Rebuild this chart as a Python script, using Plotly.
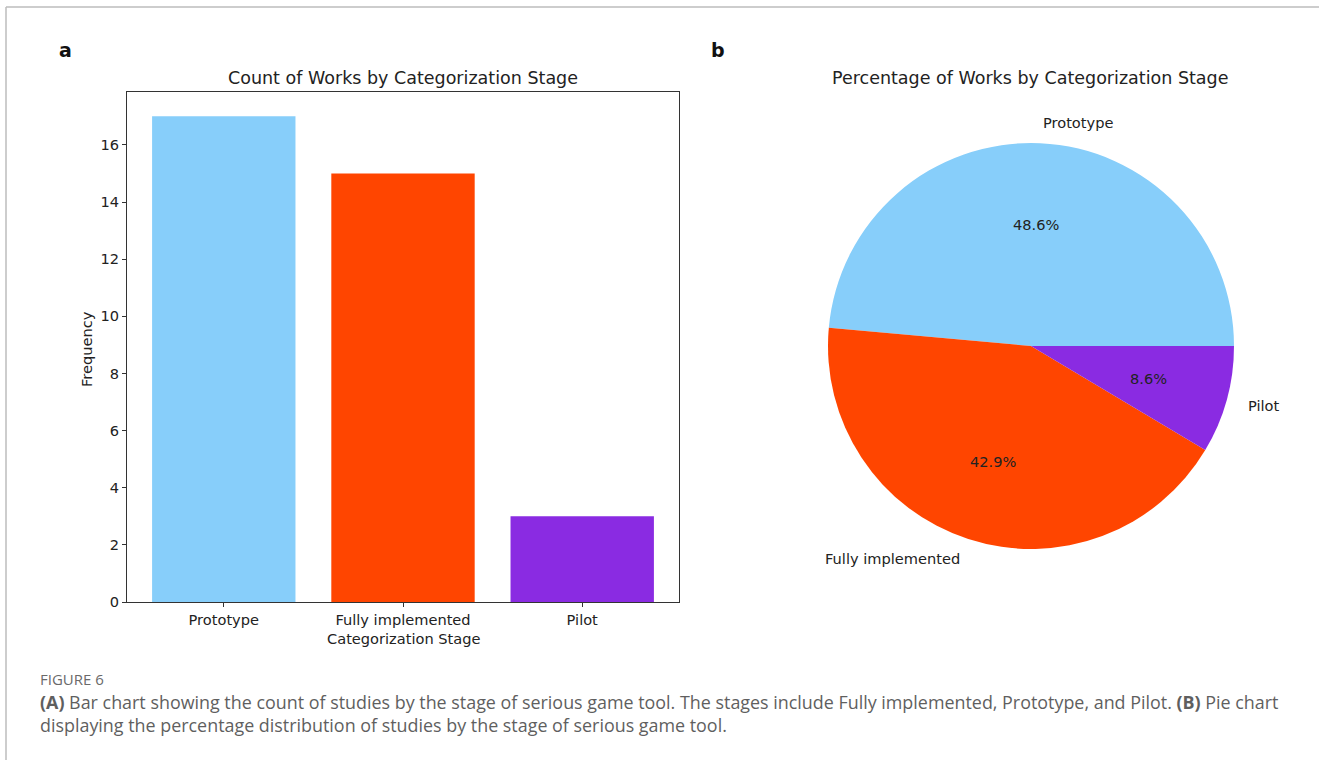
import numpy as np
import plotly.graph_objects as go

# Data
stages = ["Prototype", "Fully implemented", "Pilot"]
counts = [17, 15, 3]
colors = ["#87CEFA", "#FF4500", "#8A2BE2"]
y_ticks = [0, 2, 4, 6, 8, 10, 12, 14, 16]

W, H = 1319, 760
FONT = "DejaVu Sans"
TXT = "#222222"
LBL = 14.6


def px(x):
    return x / W


def py(y):
    return 1 - y / H


fig = go.Figure()

# Panel a: bar chart
fig.add_trace(go.Bar(
    x=list(range(len(stages))), y=counts, marker=dict(color=colors, line=dict(width=0)),
    width=0.8, showlegend=False, hoverinfo="skip",
))

# Slice geometry (math angles, counterclockwise from 3 o'clock)
vals = np.array(counts, dtype=float)
frac = vals / vals.sum()
ends = np.cumsum(frac) * 2 * np.pi
starts = ends - frac * 2 * np.pi
mids = (starts + ends) / 2

# Panel b: pie chart. In counterclockwise mode plotly places the first slice
# clockwise of `rotation`, so offset it to make the first slice end at 3 o'clock.
pie_cx, pie_cy, pie_r = 1031, 346, 203
fig.add_trace(go.Pie(
    labels=stages, values=counts, marker=dict(colors=colors, line=dict(width=0)),
    sort=False, direction="counterclockwise", rotation=float(90 - 360 * frac[0]),
    textinfo="none", hoverinfo="skip", showlegend=False,
    domain=dict(x=[px(pie_cx - pie_r), px(pie_cx + pie_r)], y=[py(pie_cy + pie_r), py(pie_cy - pie_r)]),
))

# Slice labels (outside) and percentages (inside)
annotations = []
for name, f, a in zip(stages, frac, mids):
    lx = pie_cx + 1.1 * pie_r * np.cos(a)
    ly = pie_cy - 1.1 * pie_r * np.sin(a)
    annotations.append(dict(
        x=px(lx), y=py(ly), xref="paper", yref="paper", text=name, showarrow=False,
        xanchor="left" if np.cos(a) > 0 else "right", yanchor="middle",
        font=dict(family=FONT, size=LBL, color=TXT),
    ))
    tx = pie_cx + 0.6 * pie_r * np.cos(a)
    ty = pie_cy - 0.6 * pie_r * np.sin(a)
    annotations.append(dict(
        x=px(tx), y=py(ty), xref="paper", yref="paper", text=f"{f * 100:.1f}%", showarrow=False,
        xanchor="center", yanchor="middle", font=dict(family=FONT, size=LBL, color=TXT),
    ))

# Titles and panel letters
annotations += [
    dict(x=px(403), y=py(78), text="Count of Works by Categorization Stage", xref="paper", yref="paper",
         showarrow=False, xanchor="center", yanchor="middle", font=dict(family=FONT, size=17.5, color=TXT)),
    dict(x=px(1030), y=py(78), text="Percentage of Works by Categorization Stage", xref="paper", yref="paper",
         showarrow=False, xanchor="center", yanchor="middle", font=dict(family=FONT, size=17.5, color=TXT)),
    dict(x=px(65), y=py(50), text="<b>a</b>", xref="paper", yref="paper", showarrow=False,
         xanchor="center", yanchor="middle", font=dict(family=FONT, size=19, color="#111111")),
    dict(x=px(718), y=py(50), text="<b>b</b>", xref="paper", yref="paper", showarrow=False,
         xanchor="center", yanchor="middle", font=dict(family=FONT, size=19, color="#111111")),
    dict(x=px(403), y=py(638), text="Categorization Stage", xref="paper", yref="paper", showarrow=False,
         xanchor="center", yanchor="middle", font=dict(family=FONT, size=LBL, color=TXT)),
    dict(x=px(86), y=py(349), text="Frequency", xref="paper", yref="paper", showarrow=False, textangle=-90,
         xanchor="center", yanchor="middle", font=dict(family=FONT, size=LBL, color=TXT)),
]

# Caption
CAP = "Open Sans"
CAPC = "#5f5f5f"
annotations += [
    dict(x=px(38), y=py(679), text="FIGURE 6", xref="paper", yref="paper", showarrow=False,
         xanchor="left", yanchor="middle", font=dict(family=CAP, size=15, color="#6a6a6a")),
    dict(x=px(38), y=py(702), xref="paper", yref="paper", showarrow=False, xanchor="left", yanchor="middle",
         text="<b>(A)</b> Bar chart showing the count of studies by the stage of serious game tool. "
              "The stages include Fully implemented, Prototype, and Pilot. <b>(B)</b> Pie chart",
         font=dict(family=CAP, size=17.9, color=CAPC)),
    dict(x=px(38), y=py(725), xref="paper", yref="paper", showarrow=False, xanchor="left", yanchor="middle",
         text="displaying the percentage distribution of studies by the stage of serious game tool.",
         font=dict(family=CAP, size=17.9, color=CAPC)),
]

# Figure frame (top and left edges)
shapes = [
    dict(type="line", xref="paper", yref="paper", x0=px(6), x1=1, y0=py(7), y1=py(7),
         line=dict(color="#bdbdbd", width=1.5)),
    dict(type="line", xref="paper", yref="paper", x0=px(6), x1=px(6), y0=py(7), y1=0,
         line=dict(color="#bdbdbd", width=1.5)),
]

fig.update_layout(
    width=W, height=H, margin=dict(l=0, r=0, t=0, b=0, autoexpand=False),
    paper_bgcolor="white", plot_bgcolor="white",
    annotations=annotations, shapes=shapes,
    xaxis=dict(
        domain=[px(127), px(679)], range=[-0.54, 2.54], tickmode="array",
        tickvals=list(range(len(stages))), ticktext=stages, automargin=False,
        showline=True, mirror=True, linecolor="#333333", linewidth=1.2,
        ticks="outside", ticklen=4, tickcolor="#333333", showgrid=False, zeroline=False,
        tickfont=dict(family=FONT, size=LBL, color=TXT),
    ),
    yaxis=dict(
        domain=[py(602), py(92)], range=[0, 17.85], tickmode="array", tickvals=y_ticks, automargin=False,
        showline=True, mirror=True, linecolor="#333333", linewidth=1.2,
        ticks="outside", ticklen=4, tickcolor="#333333", showgrid=False, zeroline=False,
        tickfont=dict(family=FONT, size=LBL, color=TXT),
    ),
)

fig.write_html("out.html")
